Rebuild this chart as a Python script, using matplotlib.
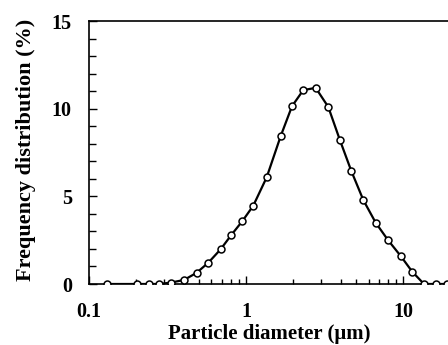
import numpy as np
import matplotlib
matplotlib.use("Agg")
import matplotlib.pyplot as plt
from matplotlib.ticker import LogLocator, FixedLocator, NullFormatter

# particle size distribution
diameter = [0.1315, 0.202, 0.243, 0.281, 0.333, 0.404, 0.486, 0.577, 0.690,
            0.807, 0.948, 1.112, 1.353, 1.660, 1.959, 2.31, 2.77, 3.33,
            3.95, 4.66, 5.56, 6.66, 7.97, 9.60, 11.37, 13.49, 16.07, 18.97]
frequency = [0.0, 0.0, 0.0, 0.0, 0.08, 0.23, 0.64, 1.22, 1.98,
             2.80, 3.59, 4.47, 6.09, 8.44, 10.15, 11.07, 11.20, 10.11,
             8.21, 6.46, 4.79, 3.50, 2.51, 1.60, 0.70, 0.0, 0.0, 0.0]

y_ticks = [0, 5, 10, 15]
x_ticks = [0.1, 1, 10]
x_ticklabels = ["0.1", "1", "10"]

plt.rcParams["font.family"] = ["Liberation Serif", "DejaVu Serif"]
plt.rcParams["font.weight"] = "bold"

fig = plt.figure(figsize=(4.48, 3.45), dpi=100)
ax = fig.add_axes([88.5 / 448, 61 / 345, (450.9 - 88.5) / 448, 262.7 / 345])

ax.plot(diameter, frequency, color="black", lw=1.6, marker="o", ms=5,
        mfc="white", mec="black", mew=1.1, zorder=3)

ax.set_xscale("log")
ax.set_xlim(0.1, 20)
ax.set_ylim(0, 15)

ax.xaxis.set_major_locator(FixedLocator(x_ticks))
ax.set_xticklabels(x_ticklabels)
ax.xaxis.set_minor_locator(LogLocator(base=10, subs=np.arange(2, 10)))
ax.xaxis.set_minor_formatter(NullFormatter())
ax.set_yticks(y_ticks)
ax.yaxis.set_minor_locator(FixedLocator(np.arange(0, 16, 1)))

ax.tick_params(which="both", direction="in", top=False, right=False,
               width=1.0, labelsize=14.5)
ax.tick_params(which="major", length=6)
ax.tick_params(axis="x", which="minor", length=3.5)
ax.tick_params(axis="y", which="minor", length=5)
ax.tick_params(axis="x", pad=13)
ax.tick_params(axis="y", pad=12)

for s in ax.spines.values():
    s.set_linewidth(1.2)
ax.spines["right"].set_visible(False)

ax.set_xlabel("Particle diameter (μm)", fontsize=15, fontweight="bold", labelpad=1.5)
ax.set_ylabel("Frequency distribution (%)", fontsize=16, fontweight="bold", labelpad=10)
ax.yaxis.set_label_coords(-0.145, 0.51)

fig.savefig("out.png", dpi=100)
